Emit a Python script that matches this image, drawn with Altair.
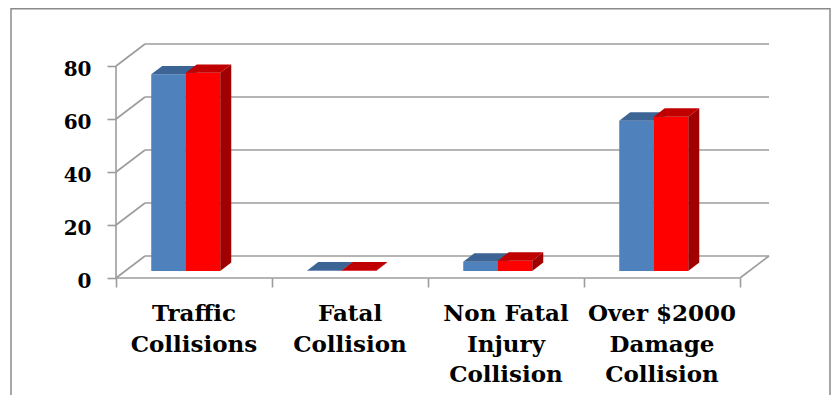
import altair as alt
import pandas as pd

# ---------------- data ----------------
categories = ["Traffic\nCollisions", "Fatal\nCollision",
              "Non Fatal\nInjury\nCollision", "Over $2000\nDamage\nCollision"]
series_names = ["Series 1", "Series 2"]
series1_values = [74.2, 0.2, 3.5, 56.7]
series2_values = [74.8, 0.2, 3.9, 58.2]
y_ticks = [0, 20, 40, 60, 80]
x_ticks = [0, 1, 2, 3, 4]

# ---------------- geometry (pseudo 3D) ----------------
PX_X = 156.0            # px per category slot
PX_Y = 212.0 / 80.0     # px per value unit
DX = 29.0 / PX_X        # wall depth, x (data units)
DY = 22.0 / PX_Y        # wall depth, y (data units)
XMAX = len(categories) + DX
YMAX = 80 + DY
W = XMAX * PX_X
H = YMAX * PX_Y
BAR_W = 34.5 / PX_X
PAIR_OFF = 0.447
F = 0.32                # depth fraction of bar front face
G = 0.38                # bar depth fraction

GRID = "#9c9c9c"
GW = 1.6
FRONT = ["#4F81BD", "#FF0000"]
TOP = ["#3C6595", "#C00000"]
SIDE = ["#385D8A", "#A00000"]

PAD_L, PAD_T = 108, 36
SVG_W, SVG_H = 823, 387

xscale = alt.Scale(domain=[0, XMAX], nice=False, zero=False)
yscale = alt.Scale(domain=[0, YMAX], nice=False, zero=False)
xaxis = alt.Axis(values=x_ticks, labels=False, grid=False, domain=False,
                 tickSize=9, tickColor=GRID, tickWidth=GW, title=None)
yaxis = alt.Axis(values=y_ticks, grid=False, domain=False, tickSize=9,
                 tickColor=GRID, tickWidth=GW, labelFont="DejaVu Serif",
                 labelFontWeight="bold", labelFontSize=20, labelColor="black",
                 labelPadding=16, labelOffset=3, title=None)


def X(f):
    return alt.X(f, type="quantitative", scale=xscale, axis=xaxis, stack=None)


def Y(f):
    return alt.Y(f, type="quantitative", scale=yscale, axis=yaxis, stack=None)


# ---------------- walls / gridlines ----------------
ticks_df = pd.DataFrame({"v": y_ticks})
wall = alt.Chart(ticks_df).transform_calculate(
    bx0=f"{DX}", bx1=f"{XMAX}", by="datum.v + %f" % DY, fx="0"
)
back_grid = wall.mark_rule(color=GRID, strokeWidth=GW).encode(
    x=X("bx0:Q"), x2="bx1:Q", y=Y("by:Q"))
side_grid = wall.mark_rule(color=GRID, strokeWidth=GW).encode(
    x=X("fx:Q"), x2="bx0:Q", y=Y("v:Q"), y2="by:Q")

edge_df = pd.DataFrame({"n": [len(categories)]})
edges = alt.Chart(edge_df).transform_calculate(
    z="0", dy=f"{DY}", xe=f"{XMAX}", top=f"{max(y_ticks)}"
)
floor_front = edges.mark_rule(color=GRID, strokeWidth=GW).encode(
    x=X("z:Q"), x2="n:Q", y=Y("z:Q"))
floor_right = edges.mark_rule(color=GRID, strokeWidth=GW).encode(
    x=X("n:Q"), x2="xe:Q", y=Y("z:Q"), y2="dy:Q")
front_axis = edges.mark_rule(color=GRID, strokeWidth=GW).encode(
    x=X("z:Q"), y=Y("z:Q"), y2="top:Q")

# ---------------- bars ----------------
rows = []
for i, c in enumerate(categories):
    rows.append({"i": i, "s": 0, "series": series_names[0], "value": series1_values[i]})
    rows.append({"i": i, "s": 1, "series": series_names[1], "value": series2_values[i]})
bars_df = pd.DataFrame(rows)

base = alt.Chart(bars_df).transform_calculate(
    x0=f"datum.i + {PAIR_OFF} + (datum.s - 1) * {BAR_W}",
    x1=f"datum.x0 + {BAR_W}",
    b=f"{F * DY}",
    t="datum.b + datum.value",
)
two = base.transform_calculate(k="[0, 1]").transform_flatten(["k"]).transform_calculate(
    tx0=f"datum.x0 + datum.k * {G * DX}",
    tx1=f"datum.x1 + datum.k * {G * DX}",
    ty=f"datum.t + datum.k * {G * DY}",
    sy2=f"datum.b + datum.k * {G * DY}",
)

layers = [back_grid, side_grid, floor_front, floor_right, front_axis]
for s in [0, 1]:
    front = base.transform_filter(f"datum.s == {s}").mark_rect(color=FRONT[s]).encode(
        x=X("x0:Q"), x2="x1:Q", y=Y("b:Q"), y2="t:Q")
    top = two.transform_filter(f"datum.s == {s}").mark_area(
        orient="horizontal", color=TOP[s]).encode(
        y=Y("ty:Q"), x=X("tx0:Q"), x2="tx1:Q", detail="i:N")
    side = two.transform_filter(f"datum.s == {s}").mark_area(
        orient="vertical", color=SIDE[s]).encode(
        x=X("tx1:Q"), y=Y("ty:Q"), y2="sy2:Q", detail="i:N")
    layers += [front, top, side]

# ---------------- category labels ----------------
lab_df = pd.DataFrame({"category": categories, "i": list(range(len(categories)))})
labels = alt.Chart(lab_df).transform_calculate(
    cx="datum.i + 0.5", z="0"
).mark_text(font="DejaVu Serif", fontWeight="bold", fontSize=23,
            lineBreak="\n", lineHeight=30.5, baseline="alphabetic",
            align="center", dy=43, color="black").encode(
    x=X("cx:Q"), y=Y("z:Q"), text="category:N")
layers.append(labels)

# ---------------- outer frame ----------------
frame = alt.Chart(pd.DataFrame({"a": [0]})).mark_rect(
    fill=None, stroke="#8a8a8a", strokeWidth=1.5).encode(
    x=alt.value(3 - PAD_L), x2=alt.value(SVG_W - 1 - PAD_L),
    y=alt.value(0.8 - PAD_T), y2=alt.value(SVG_H + 20))
layers.append(frame)

chart = alt.layer(*layers).properties(
    width=W, height=H,
    autosize=alt.AutoSizeParams(type="none"),
    padding={"left": PAD_L, "top": PAD_T,
             "right": SVG_W - PAD_L - W, "bottom": SVG_H - PAD_T - H},
    background="white",
).configure_view(stroke=None)

chart.save("out.html", embed_options={"renderer": "svg", "actions": False})
